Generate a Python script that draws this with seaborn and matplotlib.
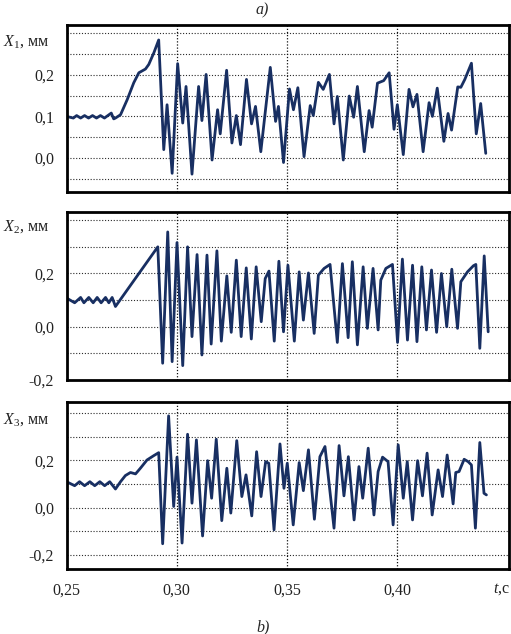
import numpy as np
import pandas as pd
import matplotlib
matplotlib.use("Agg")
import matplotlib.pyplot as plt
import seaborn as sns
from matplotlib.ticker import FixedLocator, FixedFormatter

# X1 (panel a)
t1 = [0.2500, 0.2531, 0.2546, 0.2564, 0.2582, 0.2600, 0.2618, 0.2636, 0.2654, 0.2672,
      0.2690, 0.2703, 0.2714, 0.2722, 0.2745, 0.2775, 0.2805, 0.2828, 0.2858, 0.2873,
      0.2896, 0.2918, 0.2941, 0.2956, 0.2979, 0.3004, 0.3027, 0.3042, 0.3069, 0.3099,
      0.3114, 0.3133, 0.3160, 0.3185, 0.3197, 0.3226, 0.3250, 0.3270, 0.3289, 0.3316,
      0.3339, 0.3357, 0.3381, 0.3424, 0.3448, 0.3461, 0.3484, 0.3511, 0.3529, 0.3549,
      0.3577, 0.3605, 0.3619, 0.3642, 0.3664, 0.3692, 0.3713, 0.3728, 0.3755, 0.3782,
      0.3802, 0.3819, 0.3850, 0.3872, 0.3886, 0.3910, 0.3938, 0.3963, 0.3985, 0.4000,
      0.4027, 0.4053, 0.4071, 0.4089, 0.4117, 0.4144, 0.4159, 0.4181, 0.4211, 0.4230,
      0.4246, 0.4274, 0.4288, 0.4306, 0.4336, 0.4358, 0.4378, 0.4401]
x1 = [0.100, 0.096, 0.102, 0.096, 0.102, 0.096, 0.102, 0.096, 0.102, 0.096,
      0.103, 0.108, 0.094, 0.096, 0.104, 0.140, 0.181, 0.205, 0.214, 0.225,
      0.253, 0.284, 0.020, 0.128, -0.037, 0.227, 0.084, 0.172, -0.039, 0.172,
      0.090, 0.201, -0.005, 0.116, 0.058, 0.211, 0.036, 0.102, 0.032, 0.189,
      0.082, 0.124, 0.015, 0.218, 0.088, 0.124, -0.011, 0.166, 0.116, 0.169,
      0.003, 0.126, 0.102, 0.182, 0.165, 0.201, 0.082, 0.148, -0.005, 0.149,
      0.098, 0.172, 0.015, 0.114, 0.074, 0.180, 0.186, 0.205, 0.069, 0.128,
      0.008, 0.165, 0.123, 0.153, 0.015, 0.133, 0.100, 0.168, 0.040, 0.107,
      0.067, 0.171, 0.170, 0.189, 0.228, 0.058, 0.131, 0.011]

# X2 (panel b, middle)
t2 = [0.2500, 0.2537, 0.2564, 0.2579, 0.2601, 0.2621, 0.2639, 0.2657, 0.2677, 0.2692,
      0.2707, 0.2722, 0.2914, 0.2936, 0.2959, 0.2979, 0.3001, 0.3027, 0.3049, 0.3069,
      0.3092, 0.3114, 0.3137, 0.3156, 0.3182, 0.3202, 0.3227, 0.3247, 0.3270, 0.3292,
      0.3315, 0.3338, 0.3360, 0.3383, 0.3401, 0.3418, 0.3442, 0.3463, 0.3484, 0.3504,
      0.3533, 0.3555, 0.3574, 0.3597, 0.3623, 0.3642, 0.3668, 0.3695, 0.3728, 0.3751,
      0.3777, 0.3796, 0.3819, 0.3845, 0.3864, 0.3890, 0.3913, 0.3925, 0.3948, 0.3978,
      0.4001, 0.4023, 0.4046, 0.4069, 0.4089, 0.4111, 0.4132, 0.4155, 0.4178, 0.4200,
      0.4224, 0.4247, 0.4273, 0.4288, 0.4318, 0.4345, 0.4356, 0.4374, 0.4394, 0.4412]
x2 = [0.108, 0.090, 0.110, 0.090, 0.110, 0.090, 0.110, 0.090, 0.110, 0.090,
      0.110, 0.076, 0.300, -0.137, 0.356, -0.131, 0.316, -0.146, 0.300, -0.037,
      0.271, -0.106, 0.269, -0.065, 0.285, -0.054, 0.191, -0.021, 0.250, -0.037,
      0.221, -0.046, 0.225, 0.019, 0.181, 0.209, -0.054, 0.246, -0.019, 0.231,
      -0.054, 0.206, 0.025, 0.202, -0.025, 0.194, 0.219, 0.234, -0.059, 0.237,
      -0.041, 0.244, -0.068, 0.225, -0.006, 0.219, -0.012, 0.175, 0.219, 0.234,
      -0.059, 0.254, -0.050, 0.231, -0.056, 0.225, -0.012, 0.213, -0.021, 0.200,
      0.000, 0.216, -0.006, 0.169, 0.206, 0.229, 0.234, -0.081, 0.266, -0.019]

# X3 (panel b, bottom)
t3 = [0.2500, 0.2537, 0.2559, 0.2582, 0.2606, 0.2628, 0.2651, 0.2673, 0.2696, 0.2722,
      0.2745, 0.2767, 0.2790, 0.2813, 0.2835, 0.2865, 0.2895, 0.2918, 0.2936, 0.2963,
      0.2986, 0.3001, 0.3024, 0.3049, 0.3069, 0.3089, 0.3117, 0.3140, 0.3158, 0.3179,
      0.3204, 0.3227, 0.3245, 0.3272, 0.3295, 0.3314, 0.3340, 0.3362, 0.3382, 0.3403,
      0.3417, 0.3441, 0.3468, 0.3486, 0.3501, 0.3528, 0.3555, 0.3574, 0.3597, 0.3624,
      0.3649, 0.3672, 0.3713, 0.3736, 0.3758, 0.3778, 0.3804, 0.3826, 0.3843, 0.3868,
      0.3894, 0.3913, 0.3933, 0.3958, 0.3981, 0.4004, 0.4027, 0.4045, 0.4069, 0.4092,
      0.4114, 0.4135, 0.4158, 0.4185, 0.4205, 0.4226, 0.4253, 0.4265, 0.4280, 0.4303,
      0.4321, 0.4336, 0.4354, 0.4374, 0.4393, 0.4404]
x3 = [0.110, 0.093, 0.110, 0.093, 0.110, 0.093, 0.110, 0.093, 0.110, 0.079,
      0.110, 0.136, 0.149, 0.143, 0.167, 0.202, 0.220, 0.233, -0.153, 0.389,
      0.005, 0.214, -0.150, 0.311, 0.019, 0.287, -0.120, 0.199, 0.040, 0.290,
      -0.055, 0.167, -0.023, 0.284, 0.047, 0.139, -0.035, 0.237, 0.047, 0.195,
      0.188, -0.094, 0.270, 0.082, 0.188, -0.073, 0.191, 0.072, 0.245, -0.049,
      0.216, 0.259, -0.087, 0.263, 0.050, 0.216, -0.052, 0.174, 0.040, 0.252,
      -0.031, 0.153, 0.214, 0.195, -0.073, 0.266, 0.040, 0.195, -0.052, 0.199,
      0.050, 0.231, -0.031, 0.160, 0.047, 0.223, 0.016, 0.149, 0.153, 0.205,
      0.195, 0.181, -0.087, 0.276, 0.061, 0.054]

x_ticks = [0.25, 0.30, 0.35, 0.40]
x_tick_labels = ["0,25", "0,30", "0,35", "0,40"]

panels = [
    dict(t=t1, x=x1, label=r"$X_{\mathit{1}}$, мм", ylim=(-0.082, 0.32),
         grid=[-0.05, 0.0, 0.05, 0.10, 0.15, 0.20, 0.25, 0.30],
         labels={0.0: "0,0", 0.10: "0,1", 0.20: "0,2"}),
    dict(t=t2, x=x2, label=r"$X_{\mathit{2}}$, мм", ylim=(-0.2, 0.432),
         grid=[-0.2, -0.1, 0.0, 0.1, 0.2, 0.3, 0.4],
         labels={-0.2: "-0,2", 0.0: "0,0", 0.2: "0,2"}),
    dict(t=t3, x=x3, label=r"$X_{\mathit{3}}$, мм", ylim=(-0.26, 0.449),
         grid=[-0.2, -0.1, 0.0, 0.1, 0.2, 0.3, 0.4],
         labels={-0.2: "-0,2", 0.0: "0,0", 0.2: "0,2"}),
]

sns.set_style("white")
plt.rcParams["font.family"] = ["Liberation Serif", "DejaVu Serif"]
plt.rcParams["mathtext.fontset"] = "custom"
plt.rcParams["mathtext.rm"] = "Liberation Serif"
plt.rcParams["mathtext.it"] = "Liberation Serif:italic"

W, H = 511, 634
fig = plt.figure(figsize=(W / 100, H / 100), dpi=100)

# axes frames in pixels: (top, bottom)
frames = [(25, 192), (211.7, 380), (401.7, 569)]
label_y = [42, 227, 420]
left_px, right_px = 66.5, 508.7
line_color = "#182f62"

for i, (p, (top, bot)) in enumerate(zip(panels, frames)):
    ax = fig.add_axes([left_px / W, 1 - bot / H, (right_px - left_px) / W, (bot - top) / H])
    df = pd.DataFrame({"t": p["t"], "x": p["x"]})
    sns.lineplot(data=df, x="t", y="x", ax=ax, color=line_color, lw=2.0,
                 estimator=None, sort=False, solid_joinstyle="round")
    ax.set_xlim(0.25, 0.4505)
    ax.set_ylim(*p["ylim"])

    ax.yaxis.set_major_locator(FixedLocator(p["grid"]))
    ax.yaxis.set_major_formatter(FixedFormatter(
        [p["labels"].get(round(g, 2), "") for g in p["grid"]]))
    ax.xaxis.set_major_locator(FixedLocator(x_ticks))
    if i == 2:
        ax.xaxis.set_major_formatter(FixedFormatter(x_tick_labels))
    else:
        ax.set_xticklabels([])
    ax.tick_params(axis="both", length=0, labelsize=11.5, colors="#222222")
    ax.tick_params(axis="y", pad=9)
    ax.tick_params(axis="x", pad=10)

    for g in p["grid"]:
        ax.axhline(g, color="#2a2a2a", lw=0.8, ls=(0, (1, 1.6)), zorder=0)
    for v in x_ticks[1:]:
        ax.axvline(v, color="#111111", lw=0.9, ls=(0, (1, 1.5)), zorder=0)

    for s in ax.spines.values():
        s.set_visible(True)
        s.set_color("black")
        s.set_linewidth(2)
    ax.set_xlabel("")
    ax.set_ylabel("")

    fig.text(3 / W, 1 - label_y[i] / H, p["label"], fontsize=11.5,
             ha="left", va="center", color="#222222")

fig.text(262 / W, 1 - 10 / H, "a)", fontsize=11.5, style="italic", ha="center", va="center")
fig.text(263 / W, 1 - 627 / H, "b)", fontsize=11.5, style="italic", ha="center", va="center")
fig.text(510 / W, 1 - 589 / H, "$t$,c", fontsize=11.5, ha="right", va="center", color="#222222")

fig.savefig("out.png", dpi=100)
